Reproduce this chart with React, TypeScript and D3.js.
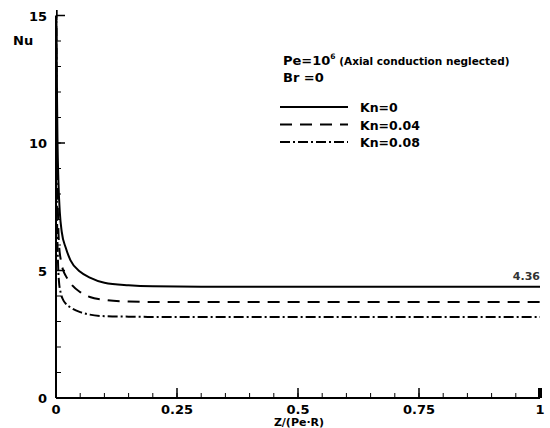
import React from "react";
import * as d3 from "d3";

const xKn0 = [0.0007, 0.001, 0.002, 0.003, 0.005, 0.008, 0.012, 0.02, 0.03, 0.05, 0.07, 0.1, 0.15, 0.2, 0.3, 0.5, 1.0];
const yKn0 = [15.5, 14.5, 12.0, 10.2, 8.5, 7.25, 6.5, 5.9, 5.4, 4.95, 4.72, 4.52, 4.42, 4.38, 4.365, 4.36, 4.36];

const xKn004 = [0.0007, 0.001, 0.002, 0.004, 0.006, 0.01, 0.015, 0.02, 0.03, 0.05, 0.07, 0.1, 0.15, 0.2, 0.3, 0.5, 1.0];
const yKn004 = [15.5, 13.0, 10.0, 7.3, 6.1, 5.4, 5.0, 4.8, 4.5, 4.15, 3.96, 3.85, 3.78, 3.765, 3.76, 3.76, 3.76];

const xKn008 = [0.0005, 0.001, 0.002, 0.004, 0.006, 0.01, 0.015, 0.02, 0.03, 0.05, 0.07, 0.1, 0.15, 0.2, 0.3, 0.5, 1.0];
const yKn008 = [15.5, 10.5, 7.4, 5.4, 4.6, 4.1, 3.84, 3.7, 3.55, 3.37, 3.27, 3.21, 3.19, 3.18, 3.18, 3.18, 3.18];

const xTicks = [0, 0.25, 0.5, 0.75, 1];
const xTickLabels = ["0", "0.25", "0.5", "0.75", "1"];
const yTicks = [0, 5, 10, 15];
const yTickLabels = ["0", "5", "10", "15"];
const legendLabels = ["Kn=0", "Kn=0.04", "Kn=0.08"];
const dashes = ["none", "12,8", "10,3,2,3"];

export default function App() {
  const W = 550, H = 428;
  const x = d3.scaleLinear().domain([0, 1]).range([56, 540]);
  const y = d3.scaleLinear().domain([0, 15]).range([398, 15.5]);
  const line = d3.line<[number, number]>().x(d => x(d[0])).y(d => y(Math.min(d[1], 15.3))).curve(d3.curveMonotoneX);
  const series = [
    xKn0.map((v, i) => [v, yKn0[i]] as [number, number]),
    xKn004.map((v, i) => [v, yKn004[i]] as [number, number]),
    xKn008.map((v, i) => [v, yKn008[i]] as [number, number]),
  ];
  const xMinor = d3.range(0, 1.0001, 0.05);
  const yMinor = d3.range(0, 15.0001, 1);
  const font = "'DejaVu Sans', Verdana, sans-serif";
  return (
    <svg width={W} height={H} style={{ position: "absolute", left: 0, top: 0 }} fontFamily={font}>
      <rect width={W} height={H} fill="#fff" />
      <defs>
        <clipPath id="c"><rect x={56} y={10} width={490} height={390} /></clipPath>
      </defs>
      <g clipPath="url(#c)">
        {series.map((s, i) => (
          <path key={i} d={line(s) || ""} fill="none" stroke="#000" strokeWidth={2} strokeDasharray={dashes[i]} />
        ))}
      </g>
      <line x1={x(0)} x2={x(0)} y1={y(15)} y2={y(0)} stroke="#000" strokeWidth={2} />
      <line x1={x(0)} x2={x(1)} y1={y(0)} y2={y(0)} stroke="#000" strokeWidth={2} />
      {xMinor.map((v, i) => (
        <line key={"xm" + i} x1={x(v)} x2={x(v)} y1={y(0)} y2={y(0) - 5} stroke="#000" strokeWidth={1} />
      ))}
      {xTicks.map((v, i) => (
        <line key={"xt" + i} x1={x(v)} x2={x(v)} y1={y(0)} y2={y(0) - 10} stroke="#000" strokeWidth={v === 1 ? 4 : 1.5} />
      ))}
      {yMinor.map((v, i) => (
        <line key={"ym" + i} x1={x(0)} x2={x(0) + 5} y1={y(v)} y2={y(v)} stroke="#000" strokeWidth={1} />
      ))}
      {yTicks.map((v, i) => (
        <line key={"yt" + i} x1={x(0)} x2={x(0) + 9} y1={y(v)} y2={y(v)} stroke="#000" strokeWidth={1.5} />
      ))}
      {xTicks.map((v, i) => (
        <text key={"xl" + i} x={x(v)} y={y(0) + 16} textAnchor="middle" fontSize={13} fontWeight="bold">{xTickLabels[i]}</text>
      ))}
      {yTicks.map((v, i) => (
        <text key={"yl" + i} x={x(0) - 9} y={y(v) + 5} textAnchor="end" fontSize={13} fontWeight="bold">{yTickLabels[i]}</text>
      ))}
      <text x={299} y={426} textAnchor="middle" fontSize={11} fontWeight="bold">Z/(Pe·R)</text>
      <text x={13} y={45} fontSize={13} fontWeight="bold">Nu</text>
      <text x={283} y={65} fontSize={13} fontWeight="bold">Pe=10<tspan dy={-6} fontSize={7.5}>6</tspan><tspan dy={6} fontSize={10.5}> (Axial conduction neglected)</tspan></text>
      <text x={283} y={82} fontSize={13} fontWeight="bold">Br =0</text>
      {legendLabels.map((l, i) => (
        <g key={"lg" + i}>
          <line x1={280} x2={348} y1={107 + i * 17.5} y2={107 + i * 17.5} stroke="#000" strokeWidth={2} strokeDasharray={dashes[i]} />
          <text x={360} y={112 + i * 17.5} fontSize={12.5} fontWeight="bold">{l}</text>
        </g>
      ))}
      <text x={x(1)} y={y(4.36) - 7} textAnchor="end" fontSize={11} fontWeight="bold" fill="#333">4.36</text>
    </svg>
  );
}
